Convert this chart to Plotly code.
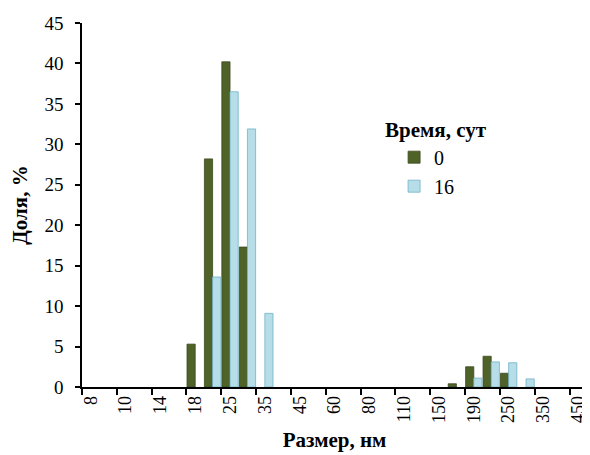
import plotly.graph_objects as go

categories = ["8", "9", "10", "12", "14", "16", "18", "21", "25", "28", "35", "38", "45", "51",
              "60", "68", "80", "91", "110", "122", "150", "164", "190", "220", "250", "295",
              "350", "396", "450"]
labeled = ["8", "10", "14", "18", "25", "35", "45", "60", "80", "110", "150", "190", "250", "350", "450"]
day0 = [0, 0, 0, 0, 0, 0, 5.3, 28.2, 40.2, 17.3, 0, 0, 0, 0,
        0, 0, 0, 0, 0, 0, 0, 0.4, 2.5, 3.8, 1.7, 0, 0, 0, 0]
day16 = [0, 0, 0, 0, 0, 0, 0, 13.6, 36.5, 31.9, 9.1, 0, 0, 0,
         0, 0, 0, 0, 0, 0, 0, 0, 1.1, 3.1, 3.0, 1.0, 0, 0, 0]

serif = "Liberation Serif, Times New Roman, serif"


def nz(vals):
    return [v if v else None for v in vals]


fig = go.Figure()
fig.add_trace(go.Bar(x=categories, y=nz(day0), name="0",
                     marker=dict(color="#4F6228", line=dict(color="#3B4A1E", width=0.8))))
fig.add_trace(go.Bar(x=categories, y=nz(day16), name="16",
                     marker=dict(color="#B7DEE8", line=dict(color="#6FB3C6", width=0.8))))

fig.update_layout(
    width=582, height=447,
    margin=dict(l=74, r=3, t=15, b=68, autoexpand=False),
    paper_bgcolor="white", plot_bgcolor="white",
    barmode="group", bargap=0.06, bargroupgap=0,
    font=dict(family=serif, size=18, color="black"),
    showlegend=True,
    legend=dict(x=0.618, y=0.685, xanchor="left", yanchor="top",
                font=dict(family=serif, size=20), itemwidth=30,
                bgcolor="rgba(0,0,0,0)"),
    annotations=[dict(text="<b>Время, сут</b>", x=0.597, y=0.706, xref="paper", yref="paper",
                      xanchor="left", yanchor="middle", showarrow=False,
                      font=dict(family=serif, size=21))],
)
fig.update_xaxes(
    type="category", categoryorder="array", categoryarray=categories,
    tickmode="array", tickvals=labeled, tickson="boundaries",
    ticks="outside", ticklen=6, tickcolor="black", tickwidth=1.5,
    tickangle=-90, showline=True, linecolor="black", linewidth=1.5,
    showgrid=False, automargin=False, tickfont=dict(family=serif, size=18),
    title=dict(text="<b>Размер, нм</b>", font=dict(family=serif, size=21), standoff=10),
)
fig.update_yaxes(
    range=[0, 45], dtick=5, ticks="outside", ticklen=5, tickcolor="black", tickwidth=1.5,
    showline=True, linecolor="black", linewidth=1.5, showgrid=False, zeroline=False,
    automargin=False, ticklabelstandoff=8, tickfont=dict(family=serif, size=19),
    title=dict(text="<b>Доля, %</b>", font=dict(family=serif, size=21), standoff=16),
)

fig.write_html("out.html")
